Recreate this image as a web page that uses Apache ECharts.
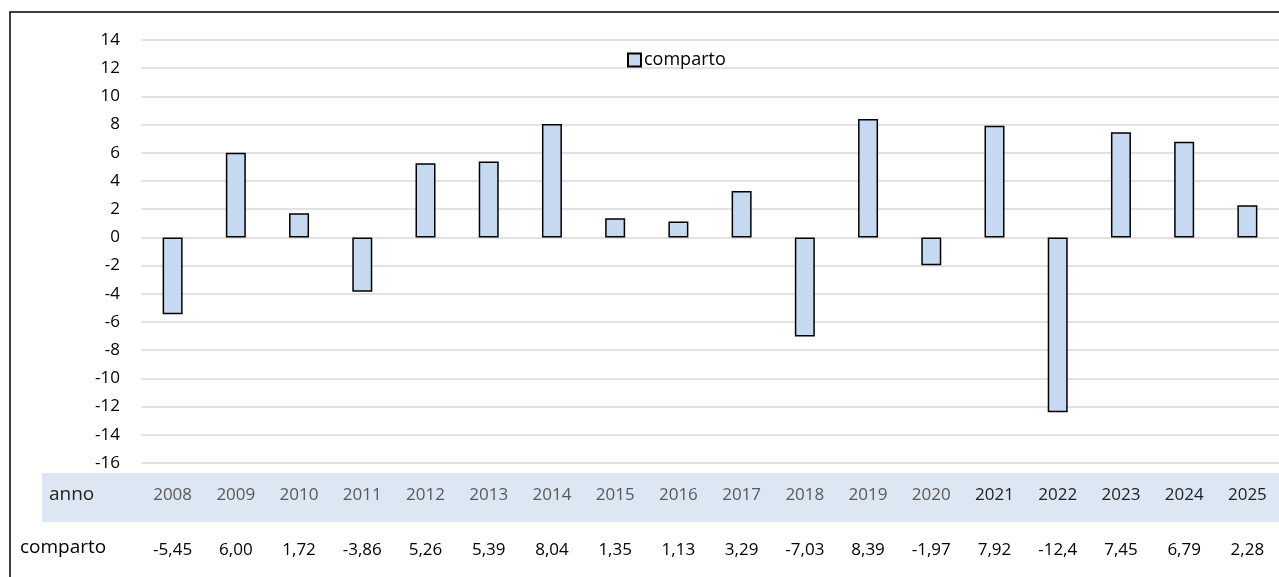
<!DOCTYPE html>
<html>
<head>
<meta charset="utf-8">
<script src="https://cdn.jsdelivr.net/npm/echarts@6/dist/echarts.min.js"></script>
<style>
  html, body { margin: 0; padding: 0; background: #fff; }
  #main { width: 1279px; height: 577px; }
</style>
</head>
<body>
<div id="main"></div>
<script>
var years = ['2008', '2009', '2010', '2011', '2012', '2013', '2014', '2015', '2016',
  '2017', '2018', '2019', '2020', '2021', '2022', '2023', '2024', '2025']
var comparto = [-5.45, 6.00, 1.72, -3.86, 5.26, 5.39, 8.04, 1.35, 1.13,
  3.29, -7.03, 8.39, -1.97, 7.92, -12.4, 7.45, 6.79, 2.28]
var compartoLabels = ['-5,45', '6,00', '1,72', '-3,86', '5,26', '5,39', '8,04', '1,35', '1,13',
  '3,29', '-7,03', '8,39', '-1,97', '7,92', '-12,4', '7,45', '6,79', '2,28']
var yMin = -16
var yMax = 14
var yStep = 2

var font = 'Open Sans'
var myChart = echarts.init(document.getElementById('main'))

var option = {
  animation: false,
  textStyle: { fontFamily: font },
  graphic: [
    // cornice del grafico
    { type: 'rect', shape: { x: 10, y: 12, width: 1300, height: 600 },
      style: { fill: null, stroke: '#000', lineWidth: 1.5 }, z: 100 },
    // fascia della tabella
    { type: 'rect', shape: { x: 42, y: 473, width: 1240, height: 49 },
      style: { fill: '#dde7f3' }, z: -1 },
    { type: 'text', left: 49, top: 485,
      style: { text: 'anno', fontSize: 19, fontFamily: font, fill: '#222' } },
    { type: 'text', left: 20, top: 538,
      style: { text: 'comparto', fontSize: 19, fontFamily: font, fill: '#000' } }
  ],
  legend: {
    top: 46,
    left: 622,
    icon: 'rect',
    itemWidth: 13,
    itemHeight: 13,
    itemGap: 3,
    textStyle: { fontSize: 18, color: '#000', fontFamily: font, padding: [0, 0, 0, -2] },
    data: ['comparto']
  },
  grid: {
    left: 141,
    top: 40,
    width: 1140,
    bottom: 114
  },
  xAxis: [{
    type: 'category',
    data: years,
    axisLine: { show: false, onZero: false },
    axisTick: { show: false },
    axisLabel: {
      interval: 0,
      margin: 24,
      formatter: function (v) {
        return Number(v) >= 2021 ? '{b|' + v + '}' : '{a|' + v + '}'
      },
      rich: {
        a: { color: '#595959', fontSize: 17, fontFamily: font },
        b: { color: '#222', fontSize: 17, fontFamily: font }
      }
    }
  }, {
    type: 'category',
    data: compartoLabels,
    position: 'bottom',
    axisLine: { show: false, onZero: false },
    axisTick: { show: false },
    axisLabel: { interval: 0, margin: 79, fontSize: 17, color: '#000' }
  }],
  yAxis: {
    type: 'value',
    min: yMin,
    max: yMax,
    interval: yStep,
    axisLine: { show: false },
    axisTick: { show: false },
    axisLabel: { margin: 21, fontSize: 17, color: '#000' },
    splitLine: { lineStyle: { color: '#d9d9d9', width: 1.5 } }
  },
  series: [{
    name: 'comparto',
    type: 'bar',
    data: comparto,
    barWidth: 20,
    itemStyle: {
      color: '#c6d9f1',
      borderColor: '#000',
      borderWidth: 1.5
    }
  }]
}

myChart.setOption(option, true)
</script>
</body>
</html>
